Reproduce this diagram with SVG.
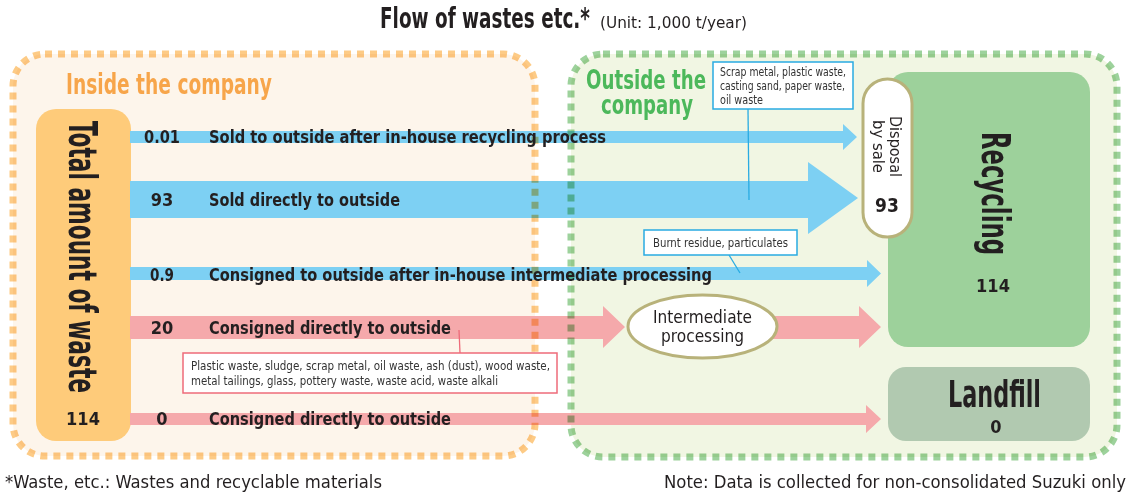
<svg xmlns="http://www.w3.org/2000/svg" width="1132" height="497" viewBox="0 0 1132 497">
<style>
.cb{font-family:"Liberation Sans Narrow","DejaVu Sans Condensed","Liberation Sans",sans-serif;font-weight:bold;fill:#231f20}
.cr{font-family:"Liberation Sans Narrow","DejaVu Sans Condensed","Liberation Sans",sans-serif;font-weight:normal;fill:#231f20}
.lbl{font-size:18px}
.call{font-size:11.5px;fill:#333}
.blue{fill:#7dd0f3}
.pink{fill:#f5a9ab}
.dash{fill:none;stroke-width:7;stroke-dasharray:7 6;mix-blend-mode:multiply}
.cbox{fill:#fff;stroke-width:1.5}
.lead{fill:none;stroke-width:1.3}
</style>
<rect width="1132" height="497" fill="#fff"/>

<g id="title">
<text class="cb" x="380" y="28" font-size="28" textLength="210" lengthAdjust="spacingAndGlyphs">Flow of wastes etc.*</text>
<text class="cr" x="600" y="28" font-size="16" textLength="147" lengthAdjust="spacingAndGlyphs">(Unit: 1,000 t/year)</text>
</g>

<g id="inside-fill"><rect x="13" y="54" width="522" height="402" rx="32" fill="#fdf5eb"/></g>
<g id="outside-fill"><rect x="571" y="54" width="546" height="403" rx="32" fill="#f1f6e3"/></g>

<g id="total">
<rect x="36" y="109" width="95" height="332" rx="20" fill="#fecb7a"/>
<text class="cb" transform="translate(69,121) rotate(90)" font-size="39" textLength="272" lengthAdjust="spacingAndGlyphs">Total amount of waste</text>
<text class="cb" x="83" y="425" font-size="18" text-anchor="middle">114</text>
</g>

<g id="recycling">
<rect x="888" y="72" width="202" height="275" rx="20" fill="#9dd19b"/>
<text class="cb" transform="translate(982,132) rotate(90)" font-size="39" textLength="123" lengthAdjust="spacingAndGlyphs">Recycling</text>
<text class="cb" x="993" y="292" font-size="18" text-anchor="middle">114</text>
</g>

<g id="landfill">
<rect x="888" y="367" width="202" height="74" rx="18" fill="#b1c9b0"/>
<text class="cb" x="994.5" y="407" font-size="38" text-anchor="middle" textLength="93" lengthAdjust="spacingAndGlyphs">Landfill</text>
<text class="cb" x="996" y="433" font-size="18" text-anchor="middle">0</text>
</g>

<g id="connectors">
<polygon class="blue" points="130,131 843,131 843,124 857,137 843,150 843,143 130,143"/>
<polygon class="blue" points="130,181 808,181 808,162 858,198 808,234 808,218 130,218"/>
<polygon class="blue" points="130,267 867,267 867,260 881,273.5 867,287 867,280 130,280"/>
<polygon class="pink" points="130,316 603,316 603,306 625,327 603,348 603,339 130,339"/>
<polygon class="pink" points="760,316 859,316 859,306 881,327 859,348 859,339 760,339"/>
<polygon class="pink" points="130,413 866,413 866,405 881,419 866,433 866,425 130,425"/>
<line class="lead" x1="748" y1="109" x2="749" y2="200" stroke="#29abe2"/>
<line class="lead" x1="729" y1="255" x2="740" y2="273" stroke="#29abe2"/>
<line class="lead" x1="459" y1="330" x2="460" y2="353" stroke="#ee6b7a"/>
</g>

<g id="inside-border"><rect class="dash" x="13" y="54" width="522" height="402" rx="32" stroke="#fdcb86"/></g>
<g id="outside-border"><rect class="dash" x="571" y="54" width="546" height="403" rx="32" stroke="#9dd29c"/></g>

<g id="inside-label"><text class="cb" x="66" y="94" font-size="28" style="fill:#f7a54a" textLength="206" lengthAdjust="spacingAndGlyphs">Inside the company</text></g>
<g id="outside-label">
<text class="cb" x="586" y="89" font-size="27" style="fill:#4cb85b" textLength="120" lengthAdjust="spacingAndGlyphs">Outside the</text>
<text class="cb" x="601" y="114" font-size="27" style="fill:#4cb85b" textLength="92" lengthAdjust="spacingAndGlyphs">company</text>
</g>

<g id="disposal">
<rect x="863" y="79" width="49" height="158" rx="24.5" fill="#fff" stroke="#b8b27a" stroke-width="3"/>
<text class="cr" transform="translate(890,116) rotate(90)" font-size="16" textLength="61" lengthAdjust="spacingAndGlyphs">Disposal</text>
<text class="cr" transform="translate(873,120) rotate(90)" font-size="16" textLength="53" lengthAdjust="spacingAndGlyphs">by sale</text>
<text class="cb" x="887" y="212" font-size="19" text-anchor="middle">93</text>
</g>

<g id="intermediate">
<ellipse cx="702.5" cy="326.5" rx="74.5" ry="31.5" fill="#fff" stroke="#b8b27a" stroke-width="3"/>
<text class="cr" x="702.5" y="323" font-size="17" text-anchor="middle" textLength="99" lengthAdjust="spacingAndGlyphs">Intermediate</text>
<text class="cr" x="702.5" y="342" font-size="17" text-anchor="middle" textLength="83" lengthAdjust="spacingAndGlyphs">processing</text>
</g>

<g id="flow-labels">
<text class="cb lbl" x="144" y="143" textLength="36" lengthAdjust="spacingAndGlyphs">0.01</text>
<text class="cb lbl" x="209" y="143" textLength="397" lengthAdjust="spacingAndGlyphs">Sold to outside after in-house recycling process</text>
<text class="cb lbl" x="162" y="206" text-anchor="middle">93</text>
<text class="cb lbl" x="209" y="206" textLength="191" lengthAdjust="spacingAndGlyphs">Sold directly to outside</text>
<text class="cb lbl" x="150" y="281" textLength="24" lengthAdjust="spacingAndGlyphs">0.9</text>
<text class="cb lbl" x="209" y="281" textLength="503" lengthAdjust="spacingAndGlyphs">Consigned to outside after in-house intermediate processing</text>
<text class="cb lbl" x="162" y="334" text-anchor="middle">20</text>
<text class="cb lbl" x="209" y="334" textLength="242" lengthAdjust="spacingAndGlyphs">Consigned directly to outside</text>
<text class="cb lbl" x="162" y="425" text-anchor="middle">0</text>
<text class="cb lbl" x="209" y="425" textLength="242" lengthAdjust="spacingAndGlyphs">Consigned directly to outside</text>
</g>

<g id="callout-recycle">
<rect class="cbox" x="713" y="62" width="140" height="47" stroke="#29abe2"/>
<text class="cr call" x="720" y="76" textLength="126" lengthAdjust="spacingAndGlyphs">Scrap metal, plastic waste,</text>
<text class="cr call" x="720" y="90" textLength="125" lengthAdjust="spacingAndGlyphs">casting sand, paper waste,</text>
<text class="cr call" x="720" y="104" textLength="43" lengthAdjust="spacingAndGlyphs">oil waste</text>
</g>
<g id="callout-burnt">
<rect class="cbox" x="644" y="230" width="153" height="25" stroke="#29abe2"/>
<text class="cr call" x="653" y="247" textLength="135" lengthAdjust="spacingAndGlyphs">Burnt residue, particulates</text>
</g>
<g id="callout-consigned">
<rect class="cbox" x="183" y="353" width="374" height="40" stroke="#ee6b7a"/>
<text class="cr call" x="191" y="370" textLength="359" lengthAdjust="spacingAndGlyphs">Plastic waste, sludge, scrap metal, oil waste, ash (dust), wood waste,</text>
<text class="cr call" x="191" y="385" textLength="307" lengthAdjust="spacingAndGlyphs">metal tailings, glass, pottery waste, waste acid, waste alkali</text>
</g>

<g id="footnotes">
<text class="cr" x="5" y="488" font-size="17" textLength="377" lengthAdjust="spacingAndGlyphs">*Waste, etc.: Wastes and recyclable materials</text>
<text class="cr" x="1126" y="488" font-size="17" text-anchor="end" textLength="462" lengthAdjust="spacingAndGlyphs">Note: Data is collected for non-consolidated Suzuki only</text>
</g>
</svg>
